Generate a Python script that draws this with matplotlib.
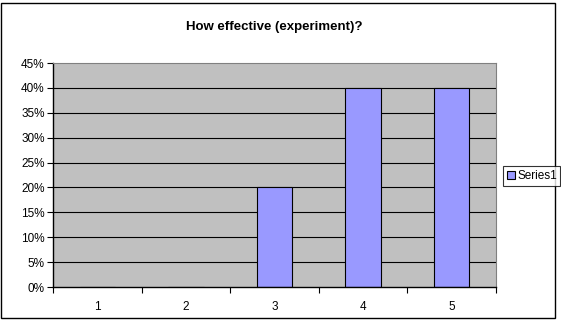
import matplotlib
matplotlib.use('Agg')
from matplotlib import pyplot as plt
from matplotlib.patches import Rectangle
import numpy as np

categories = ['1', '2', '3', '4', '5']
values = [0, 0, 0.20, 0.40, 0.40]
yticks = [0, 0.05, 0.10, 0.15, 0.20, 0.25, 0.30, 0.35, 0.40, 0.45]

plt.rcParams['font.family'] = ['Liberation Sans', 'DejaVu Sans']

W, H = 561, 323
fig = plt.figure(figsize=(W / 100, H / 100), dpi=100)
fig.patch.set_facecolor('white')

# outer chart border
fig.patches.append(Rectangle((1 / W, 1 - 318 / H), 554 / W, 315 / H,
                             transform=fig.transFigure, fill=False,
                             edgecolor='black', linewidth=1))

left, right, top, bottom = 53, 496, 63, 287
ax = fig.add_axes([left / W, 1 - bottom / H, (right - left) / W, (bottom - top) / H])
ax.set_facecolor('#C0C0C0')

x = np.arange(len(categories))
ax.set_xlim(-0.5, len(categories) - 0.5)
ax.set_ylim(0, 0.45)
for yv in yticks[1:-1]:
    ax.axhline(yv, color='black', linewidth=0.8, zorder=1)
bars = ax.bar(x, values, width=0.4, color='#9999FF', edgecolor='black',
              linewidth=0.8, zorder=2, label='Series1')

ax.set_yticks(yticks)
ax.set_yticklabels([f'{int(round(v * 100))}%' for v in yticks], fontsize=8.5)
ax.set_xticks(np.arange(-0.5, len(categories), 1.0))
ax.set_xticklabels([])
ax.set_xticks(x, minor=True)
ax.set_xticklabels(categories, minor=True, fontsize=8.5)
ax.tick_params(axis='x', which='minor', length=0, pad=10)
ax.tick_params(axis='x', which='major', length=4, direction='out', width=0.8)
ax.tick_params(axis='y', length=4, direction='out', width=0.8, pad=2)

for s in ['top', 'right']:
    ax.spines[s].set_color('#808080')
    ax.spines[s].set_linewidth(0.8)
for s in ['left', 'bottom']:
    ax.spines[s].set_color('black')
    ax.spines[s].set_linewidth(1)

fig.text(0.5 * (left + right) / W, 1 - 27 / H, 'How effective (experiment)?',
         ha='center', va='center', fontsize=9.5, fontweight='bold')

leg = fig.legend(handles=[bars], labels=['Series1'], loc='center left',
                 bbox_to_anchor=(503 / W, 1 - 176 / H), fontsize=8.5,
                 frameon=True, fancybox=False, edgecolor='black',
                 handlelength=0.7, handleheight=0.7, handletextpad=0.2,
                 borderpad=0.3, borderaxespad=0)
leg.get_frame().set_linewidth(0.8)

fig.savefig('out.png', dpi=100)
